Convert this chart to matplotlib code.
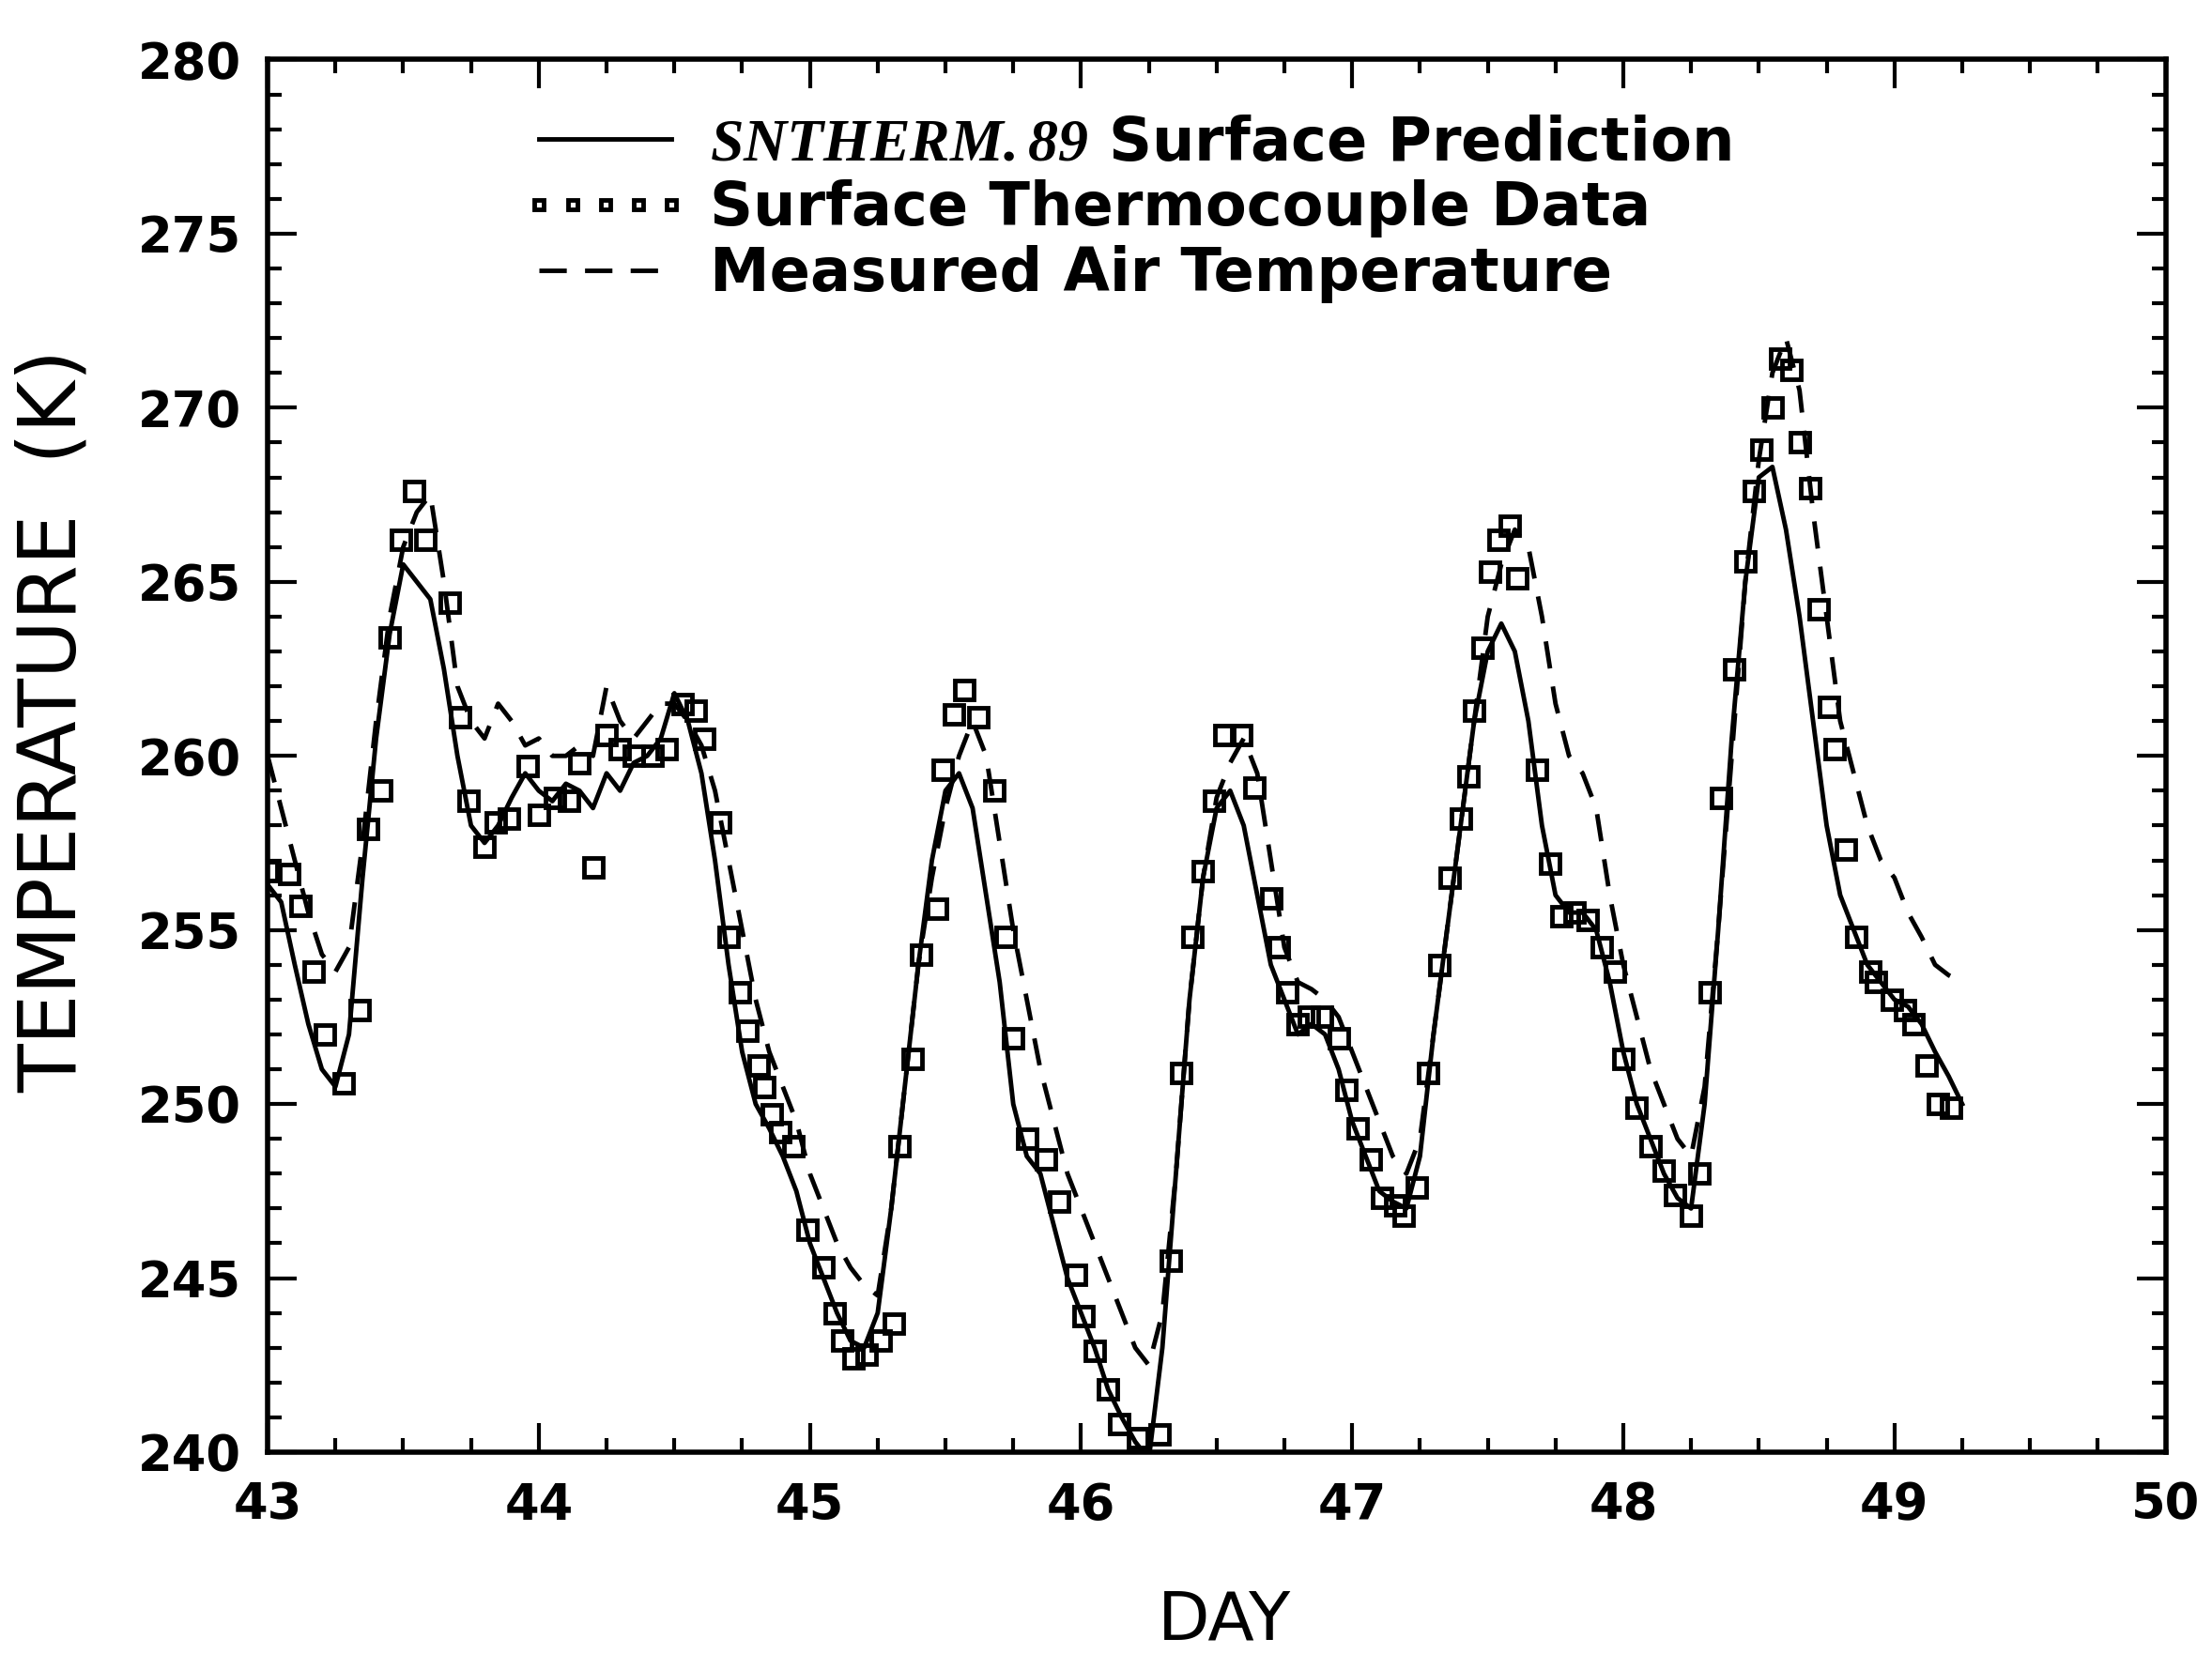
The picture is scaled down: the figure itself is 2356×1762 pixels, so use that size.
import numpy as np
import matplotlib
matplotlib.use("Agg")
from matplotlib import pyplot as plt
from matplotlib.ticker import MultipleLocator

# SNTHERM.89 surface prediction (solid line)
model_day = np.array([43.00, 43.05, 43.10, 43.15, 43.20, 43.25, 43.30, 43.35, 43.40, 43.45,
                      43.50, 43.55, 43.60, 43.65, 43.70, 43.75, 43.80, 43.85, 43.90, 43.95,
                      44.00, 44.05, 44.10, 44.15, 44.20, 44.25, 44.30, 44.35, 44.40, 44.45,
                      44.50, 44.55, 44.60, 44.65, 44.70, 44.75, 44.80, 44.85, 44.90, 44.95,
                      45.00, 45.05, 45.10, 45.15, 45.20, 45.25, 45.30, 45.35, 45.40, 45.45,
                      45.50, 45.55, 45.60, 45.65, 45.70, 45.75, 45.80, 45.85, 45.90, 45.95,
                      46.00, 46.05, 46.10, 46.15, 46.20, 46.25, 46.30, 46.35, 46.40, 46.45,
                      46.50, 46.55, 46.60, 46.65, 46.70, 46.75, 46.80, 46.85, 46.90, 46.95,
                      47.00, 47.05, 47.10, 47.15, 47.20, 47.25, 47.30, 47.35, 47.40, 47.45,
                      47.50, 47.55, 47.60, 47.65, 47.70, 47.75, 47.80, 47.85, 47.90, 47.95,
                      48.00, 48.05, 48.10, 48.15, 48.20, 48.25, 48.30, 48.35, 48.40, 48.45,
                      48.50, 48.55, 48.60, 48.65, 48.70, 48.75, 48.80, 48.85, 48.90, 48.95,
                      49.00, 49.05, 49.10, 49.15, 49.20, 49.25])
model_temp = np.array([256.3, 255.8, 254.0, 252.3, 251.0, 250.5, 252.0, 256.5, 260.5, 263.5,
                       265.5, 265.0, 264.5, 262.5, 260.0, 258.0, 257.5, 258.0, 258.8, 259.5,
                       259.0, 258.7, 259.2, 259.0, 258.5, 259.5, 259.0, 259.8, 260.0, 260.5,
                       261.8, 261.0, 259.5, 257.0, 254.0, 251.5, 250.0, 249.3, 248.5, 247.5,
                       246.0, 245.0, 244.0, 243.2, 243.0, 244.0, 247.0, 250.5, 254.0, 257.0,
                       259.0, 259.5, 258.5, 256.0, 253.5, 250.0, 248.5, 248.0, 246.5, 245.0,
                       244.0, 243.0, 241.8, 241.0, 240.3, 239.8, 243.0, 248.0, 253.0, 256.5,
                       258.5, 259.0, 258.0, 256.0, 254.0, 253.0, 252.0, 252.3, 252.0, 251.0,
                       249.5, 248.5, 247.5, 247.2, 247.0, 248.5, 252.0, 255.0, 258.0, 261.0,
                       263.0, 263.8, 263.0, 261.0, 258.0, 256.0, 255.5, 255.5, 255.0, 253.5,
                       251.5, 250.0, 249.0, 248.0, 247.3, 247.0, 250.0, 255.0, 260.5, 265.0,
                       268.0, 268.3, 266.5, 264.0, 261.0, 258.0, 256.0, 255.0, 254.0, 253.5,
                       253.0, 252.8, 252.3, 251.5, 250.8, 250.0])

# measured air temperature (dashed line)
air_day = model_day
air_temp = np.array([260.0, 258.5, 257.0, 255.5, 254.3, 253.8, 254.5, 257.5, 261.0, 264.0,
                     266.0, 267.0, 267.5, 265.0, 262.0, 261.0, 260.5, 261.5, 261.0, 260.3,
                     260.5, 260.0, 260.0, 260.3, 260.0, 262.0, 261.0, 260.5, 261.0, 261.5,
                     261.5, 261.0, 260.3, 259.0, 257.0, 255.0, 253.0, 251.5, 250.5, 249.5,
                     248.0, 247.0, 246.0, 245.3, 244.8, 244.5, 247.0, 250.5, 254.0, 256.5,
                     258.5, 260.0, 261.0, 260.0, 257.5, 255.0, 253.0, 251.0, 249.5, 248.0,
                     247.0, 246.0, 245.0, 244.0, 243.0, 242.5, 244.0, 248.0, 253.0, 256.5,
                     258.8, 259.8, 260.5, 259.5, 257.0, 254.5, 253.5, 253.3, 253.0, 252.5,
                     251.5, 250.5, 249.5, 248.5, 248.0, 249.0, 252.0, 255.0, 258.0, 261.0,
                     264.0, 265.5, 266.5, 266.0, 264.0, 261.5, 260.0, 259.5, 258.5, 256.0,
                     254.0, 252.5, 251.0, 250.0, 249.0, 248.5, 250.5, 255.0, 260.0, 265.0,
                     268.5, 271.0, 272.0, 270.5, 267.0, 264.0, 261.0, 259.5, 258.0, 257.0,
                     256.5, 255.5, 254.8, 254.0, 253.7, 253.5])

# surface thermocouple data (open squares)
tc_day = np.array([43.00, 43.08, 43.12, 43.17, 43.21, 43.28, 43.34, 43.37, 43.42, 43.45,
                   43.49, 43.54, 43.58, 43.67, 43.71, 43.74, 43.80, 43.84, 43.89, 43.96,
                   44.00, 44.06, 44.11, 44.15, 44.20, 44.25, 44.30, 44.35, 44.42, 44.47,
                   44.53, 44.58, 44.61, 44.67, 44.70, 44.74, 44.77, 44.81, 44.83, 44.86,
                   44.89, 44.94, 44.99, 45.05, 45.09, 45.12, 45.16, 45.21, 45.26, 45.31,
                   45.33, 45.38, 45.41, 45.47, 45.49, 45.53, 45.57, 45.62, 45.68, 45.72,
                   45.75, 45.80, 45.87, 45.92, 45.98, 46.01, 46.05, 46.10, 46.14, 46.21,
                   46.29, 46.33, 46.37, 46.41, 46.45, 46.49, 46.53, 46.59, 46.64, 46.70,
                   46.73, 46.76, 46.80, 46.84, 46.89, 46.95, 46.98, 47.02, 47.07, 47.11,
                   47.16, 47.19, 47.24, 47.28, 47.32, 47.36, 47.40, 47.43, 47.45, 47.48,
                   47.51, 47.54, 47.58, 47.61, 47.68, 47.73, 47.77, 47.82, 47.87, 47.92,
                   47.97, 48.00, 48.05, 48.10, 48.15, 48.19, 48.25, 48.28, 48.32, 48.36,
                   48.41, 48.45, 48.48, 48.51, 48.55, 48.58, 48.62, 48.65, 48.69, 48.72,
                   48.76, 48.78, 48.82, 48.86, 48.91, 48.93, 48.99, 49.04, 49.07, 49.12,
                   49.16, 49.21])
tc_temp = np.array([256.7, 256.6, 255.7, 253.8, 252.0, 250.6, 252.7, 257.9, 259.0, 263.4,
                    266.2, 267.6, 266.2, 264.4, 261.1, 258.7, 257.4, 258.1, 258.2, 259.7,
                    258.3, 258.8, 258.7, 259.8, 256.8, 260.6, 260.2, 260.0, 260.0, 260.2,
                    261.5, 261.3, 260.5, 258.1, 254.8, 253.2, 252.1, 251.1, 250.5, 249.7,
                    249.2, 248.8, 246.4, 245.3, 244.0, 243.2, 242.7, 242.8, 243.2, 243.7,
                    248.8, 251.3, 254.3, 255.6, 259.6, 261.2, 261.9, 261.1, 259.0, 254.8,
                    251.9, 249.0, 248.4, 247.2, 245.1, 243.9, 242.9, 241.8, 240.8, 240.4,
                    240.5, 245.5, 250.9, 254.8, 256.7, 258.7, 260.6, 260.6, 259.1, 255.9,
                    254.5, 253.2, 252.3, 252.5, 252.5, 251.9, 250.4, 249.3, 248.4, 247.3,
                    247.1, 246.8, 247.6, 250.9, 254.0, 256.5, 258.2, 259.4, 261.3, 263.1,
                    265.3, 266.2, 266.6, 265.1, 259.6, 256.9, 255.4, 255.5, 255.3, 254.5,
                    253.8, 251.3, 249.9, 248.8, 248.1, 247.4, 246.8, 248.0, 253.2, 258.8,
                    262.5, 265.6, 267.6, 268.8, 270.0, 271.4, 271.1, 269.0, 267.7, 264.2,
                    261.4, 260.2, 257.3, 254.8, 253.8, 253.5, 253.0, 252.7, 252.3, 251.1,
                    250.0, 249.9])

xticks = [43, 44, 45, 46, 47, 48, 49, 50]
yticks = [240, 245, 250, 255, 260, 265, 270, 275, 280]

plt.rcParams['mathtext.fontset'] = 'custom'
plt.rcParams['mathtext.it'] = 'Liberation Serif:style=italic:weight=bold'
plt.rcParams['mathtext.rm'] = 'Liberation Serif:style=italic:weight=bold'

fig = plt.figure(figsize=(23.56, 17.62), dpi=100)
ax = fig.add_axes([0.121, 0.122, 0.858, 0.842])

ax.plot(model_day, model_temp, color='black', lw=3.5, label=r'$\mathit{SNTHERM.89}$ Surface Prediction')
ax.plot(tc_day, tc_temp, ls='none', marker='s', ms=15, mfc='none', mec='black', mew=3.5,
        label='Surface Thermocouple Data')
ax.plot(air_day, air_temp, color='black', lw=3.5, ls=(0, (6, 4)), label='Measured Air Temperature')

ax.set_xlim(43, 50)
ax.set_ylim(240, 280)
ax.set_xticks(xticks)
ax.set_yticks(yticks)
ax.xaxis.set_minor_locator(MultipleLocator(0.25))
ax.yaxis.set_minor_locator(MultipleLocator(1))
ax.tick_params(which='both', direction='in', top=True, right=True, width=3)
ax.tick_params(which='major', length=22)
ax.tick_params(which='minor', length=11)
ax.tick_params(axis='x', which='major', pad=22, labelsize=38)
ax.tick_params(axis='y', which='major', pad=20, labelsize=38)
for lab in ax.get_xticklabels() + ax.get_yticklabels():
    lab.set_fontweight('bold')
for sp in ax.spines.values():
    sp.set_linewidth(4)

ax.set_xlabel('DAY', fontsize=52)
ax.xaxis.set_label_coords(0.504, -0.098)
ax.set_ylabel('TEMPERATURE  (K)', fontsize=61)
ax.yaxis.set_label_coords(-0.092, 0.525)

leg = ax.legend(loc='upper left', bbox_to_anchor=(0.121, 0.978), frameon=False,
                fontsize=46, handlelength=2.8, handletextpad=0.35, labelspacing=0.12,
                numpoints=5, markerscale=0.5, borderaxespad=0)
for t in leg.get_texts():
    t.set_fontweight('bold')

fig.savefig('out.png', dpi=100)
